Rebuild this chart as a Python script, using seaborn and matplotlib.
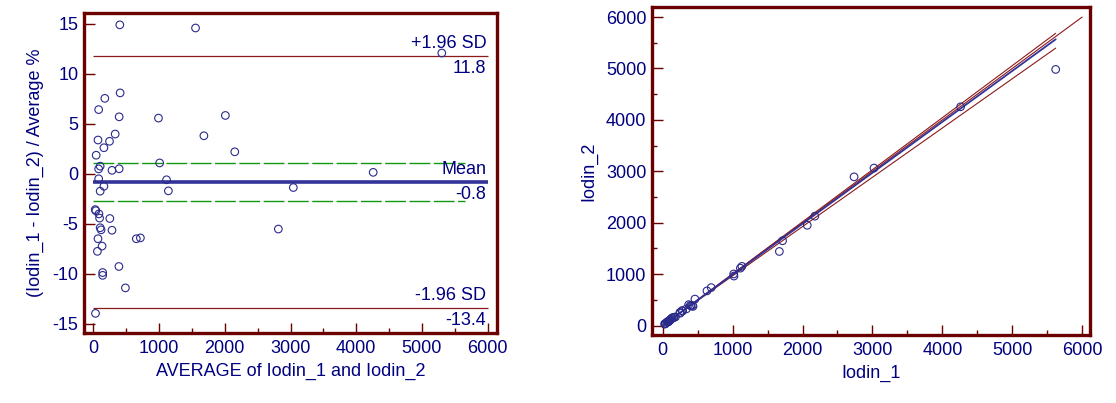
import numpy as np
import pandas as pd
import matplotlib
matplotlib.use("Agg")
import matplotlib.pyplot as plt
from matplotlib.ticker import MultipleLocator
import seaborn as sns

# ---------------- data ----------------
iodin_1 = [433.0, 1668.3, 5622.0, 424.5, 181.6, 83.6, 404.2, 1018.6, 2067.6, 1714.0,
           338.6, 72.2, 250.0, 163.1, 2175.7, 43.4, 1014.5, 104.4, 81.2, 284.5,
           394.0, 4261.2, 80.8, 160.0, 103.1, 1110.7, 1132.3, 3022.2, 27.5, 37.3,
           83.3, 92.9, 245.4, 101.2, 114.7, 276.0, 68.7, 128.2, 59.6, 632.8,
           693.1, 371.0, 135.0, 134.8, 460.2, 30.7, 2737.4]
iodin_2 = [373.0, 1441.7, 4982.0, 391.5, 168.4, 78.4, 381.8, 963.4, 1950.4, 1650.0,
           325.4, 69.8, 242.0, 158.9, 2128.3, 42.6, 1003.5, 103.6, 80.8, 283.5,
           392.0, 4254.8, 81.2, 162.0, 104.9, 1117.3, 1151.7, 3063.8, 28.5, 38.7,
           86.7, 97.1, 256.6, 106.8, 121.3, 292.0, 73.3, 137.8, 64.4, 675.2,
           738.9, 407.0, 149.0, 149.2, 515.8, 35.3, 2892.6]

# Bland-Altman summary values (as printed on the chart)
mean_diff = -0.8
upper_loa = 11.8
lower_loa = -13.4
mean_ci = [1.1, -2.7]
loa_labels = ["+1.96 SD", "Mean", "-1.96 SD"]

# regression (intercept, slope) for the method comparison plot
reg_line = [2.0, 0.990]
reg_ci_upper = [-5.0, 1.012]
reg_ci_lower = [10.0, 0.958]

df = pd.DataFrame({"Iodin_1": iodin_1, "Iodin_2": iodin_2})
df["avg"] = (df["Iodin_1"] + df["Iodin_2"]) / 2
df["pct"] = (df["Iodin_1"] - df["Iodin_2"]) / df["avg"] * 100

# ---------------- style ----------------
sns.set_style("white")
plt.rcParams["font.family"] = ["Liberation Sans", "DejaVu Sans"]
plt.rcParams["axes.unicode_minus"] = False

NAVY = "#000080"
PTCOL = "#2b2b8c"
MAROON = "#6b0000"
RED = "#8b1a1a"
BLUE = "#333399"
GREEN = "#109a10"
FS = 13

fig = plt.figure(figsize=(11.16, 4.03), dpi=100)
ax1 = fig.add_axes([84 / 1116, 1 - 333 / 403, (497 - 84) / 1116, (333 - 13) / 403])
ax2 = fig.add_axes([652 / 1116, 1 - 335 / 403, (1090 - 652) / 1116, (335 - 7) / 403])

for ax in (ax1, ax2):
    for s in ax.spines.values():
        s.set_color(MAROON)
        s.set_linewidth(2.4)
    ax.tick_params(axis="both", which="both", direction="in", colors=MAROON,
                   labelcolor=NAVY, labelsize=FS, width=1.0,
                   bottom=True, left=True, top=False, right=False)
    ax.tick_params(axis="y", which="major", length=8, pad=4)
    ax.tick_params(axis="x", which="major", length=7, pad=5)
    ax.tick_params(axis="both", which="minor", length=3.5)

# ---------------- left: Bland-Altman ----------------
xmax_line = 6000
ax1.hlines([upper_loa, lower_loa], 0, xmax_line, colors=RED, linewidth=0.9, zorder=2)
for yv in mean_ci:
    ax1.plot([0, 5660], [yv, yv], color=GREEN, linewidth=1.0,
             linestyle=(0, (15, 2.5)), zorder=2)
ax1.hlines(mean_diff, 0, xmax_line, colors=BLUE, linewidth=2.6, zorder=3)

sns.scatterplot(data=df, x="avg", y="pct", ax=ax1, marker="o", s=30,
                facecolor="none", edgecolor=PTCOL, linewidth=0.8, zorder=4)

tx = 5980
for yv, lab in zip([upper_loa, mean_diff, lower_loa], loa_labels):
    ax1.text(tx, yv + 0.35, lab, ha="right", va="bottom", color=NAVY, fontsize=FS)
    ax1.text(tx, yv - 0.45, f"{yv:.1f}", ha="right", va="top", color=NAVY, fontsize=FS)

ax1.set_xlim(-142, 6142)
ax1.set_ylim(-15.9, 16.07)
ax1.xaxis.set_major_locator(MultipleLocator(1000))
ax1.xaxis.set_minor_locator(MultipleLocator(500))
ax1.yaxis.set_major_locator(MultipleLocator(5))
ax1.set_xlabel("AVERAGE of Iodin_1 and Iodin_2", color=NAVY, fontsize=FS, labelpad=4)
ax1.set_ylabel("(Iodin_1 - Iodin_2) / Average %", color=NAVY, fontsize=FS, labelpad=6)

# ---------------- right: method comparison ----------------
xs = np.array([df["Iodin_1"].min(), df["Iodin_1"].max()])
ax2.plot([0, 6000], [0, 6000], color=RED, linewidth=0.8, zorder=2)
for (a, b) in (reg_ci_upper, reg_ci_lower):
    ax2.plot(xs, a + b * xs, color=RED, linewidth=0.8, zorder=2)
ax2.plot(xs, reg_line[0] + reg_line[1] * xs, color=BLUE, linewidth=1.3, zorder=3)

sns.scatterplot(data=df, x="Iodin_1", y="Iodin_2", ax=ax2, marker="o", s=30,
                facecolor="none", edgecolor=PTCOL, linewidth=0.8, zorder=4)

ax2.set_xlim(-154, 6113)
ax2.set_ylim(-183, 6196)
ax2.xaxis.set_major_locator(MultipleLocator(1000))
ax2.xaxis.set_minor_locator(MultipleLocator(500))
ax2.yaxis.set_major_locator(MultipleLocator(1000))
ax2.yaxis.set_minor_locator(MultipleLocator(500))
ax2.set_xlabel("Iodin_1", color=NAVY, fontsize=FS, labelpad=4)
ax2.set_ylabel("Iodin_2", color=NAVY, fontsize=FS, labelpad=6)

fig.savefig("out.png", dpi=100)
